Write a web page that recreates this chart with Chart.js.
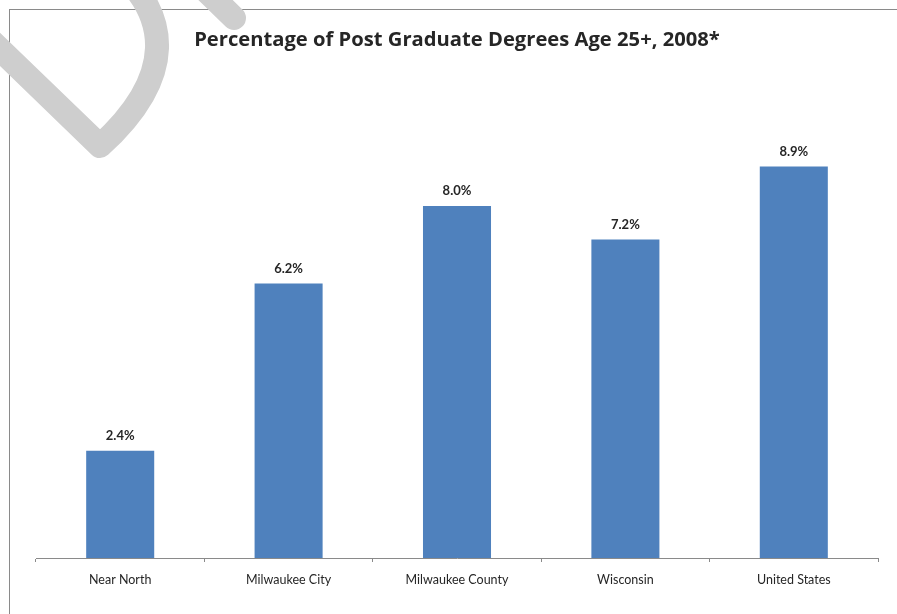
<!DOCTYPE html>
<html>
<head>
<meta charset="utf-8">
<script src="https://cdn.jsdelivr.net/npm/chart.js@4"></script>
<style>
  html, body { margin: 0; padding: 0; background: #fff; }
  #wrap { width: 897px; height: 614px; position: relative; }
</style>
</head>
<body>
<div id="wrap"><canvas id="myChart"></canvas></div>
<script>
// Data for the chart
var categories = ['Near North', 'Milwaukee City', 'Milwaukee County', 'Wisconsin', 'United States'];
var postGradPct = [2.44, 6.24, 8.0, 7.24, 8.9]; // bar heights
var chartTitle = 'Percentage of Post Graduate Degrees Age 25+, 2008*';

var fontFamily = 'Lato, "Open Sans", sans-serif';
var titleFamily = '"Open Sans", Lato, sans-serif';

// Frame and watermark drawn behind / over the chart
var framePlugin = {
    id: 'frame',
    beforeDraw: function(chart) {
        var c = chart.ctx;
        c.save();
        c.strokeStyle = '#8a8a8a';
        c.lineWidth = 1;
        c.strokeRect(9.5, 9.5, 1000, 1000);
        c.restore();
    },
    afterDraw: function(chart) {
        var c = chart.ctx;
        c.save();
        c.strokeStyle = 'rgb(206,206,206)';
        c.lineWidth = 24;
        c.lineCap = 'round';
        c.lineJoin = 'round';
        c.beginPath();
        c.moveTo(-20, 30);
        c.lineTo(100, 146);
        c.bezierCurveTo(178, 75, 168, 15, 118, -30);
        c.stroke();
        c.beginPath();
        c.moveTo(195, -20);
        c.lineTo(234, 18);
        c.stroke();
        c.restore();
    }
};

// Value labels above each bar
var valueLabels = {
    id: 'valueLabels',
    afterDatasetsDraw: function(chart) {
        var c = chart.ctx;
        var meta = chart.getDatasetMeta(0);
        c.save();
        c.font = 'bold 13px ' + fontFamily;
        c.fillStyle = '#262626';
        c.textAlign = 'center';
        c.textBaseline = 'middle';
        meta.data.forEach(function(bar, i) {
            c.fillText(postGradPct[i].toFixed(1) + '%', bar.x, bar.y - 15);
        });
        c.restore();
    }
};

var data = {
    labels: categories,
    datasets: [{
        label: 'Post Graduate Degrees',
        data: postGradPct,
        backgroundColor: '#4f81bd',
        borderWidth: 0,
        categoryPercentage: 1,
        barPercentage: 0.404
    }]
};

var titleSize = 20.2;
var titleTop = 28;
var options = {
    responsive: true,
    maintainAspectRatio: false,
    animation: false,
    layout: { padding: { left: 36, right: 19, top: 0, bottom: 0 } },
    plugins: {
        legend: { display: false },
        tooltip: { enabled: false },
        title: {
            display: true,
            text: chartTitle,
            color: '#262626',
            font: { family: titleFamily, size: titleSize, weight: 'bold', lineHeight: 1.2 },
            padding: { top: titleTop, bottom: 118 - titleTop - titleSize * 1.2 }
        }
    },
    scales: {
        x: {
            afterFit: function(scale) { scale.height = 56; },
            grid: { drawOnChartArea: false, drawTicks: true, tickLength: 4, color: '#8a8a8a' },
            border: { display: true, color: '#8a8a8a' },
            ticks: { color: '#262626', padding: 10, font: { family: fontFamily, size: 12.5 } }
        },
        y: {
            display: false,
            min: 0,
            max: 10,
            afterFit: function(scale) { scale.width = 0; }
        }
    }
};

var ctx = document.getElementById('myChart').getContext('2d');
var myChart = new Chart(ctx, {
    type: 'bar',
    data: data,
    options: options,
    plugins: [framePlugin, valueLabels]
});
</script>
</body>
</html>
